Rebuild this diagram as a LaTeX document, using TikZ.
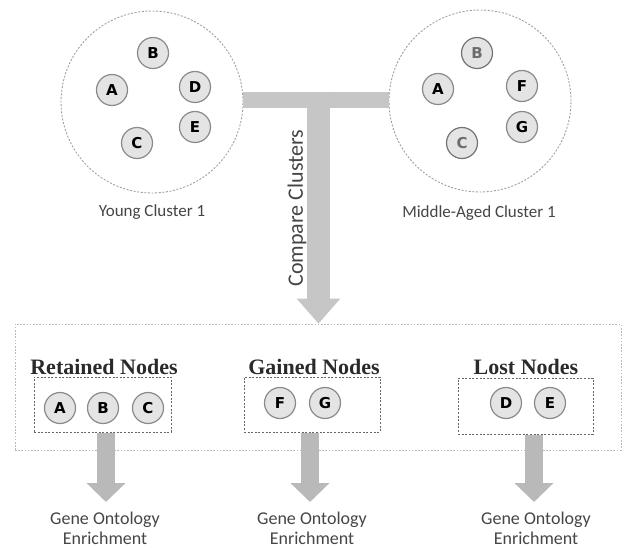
\documentclass[tikz,border=0pt]{standalone}
\usepackage{fontspec}
\setmainfont{Carlito}
\newfontfamily\titlefont{Liberation Serif}
\newfontfamily\letterfont{DejaVu Sans}
\usetikzlibrary{arrows.meta}
\definecolor{barc}{HTML}{C6C6C6}
\definecolor{arrc}{HTML}{B9B9B9}
\definecolor{nodefill}{HTML}{E4E4E4}
\definecolor{noderim}{HTML}{8A8A8A}
\definecolor{labc}{HTML}{454545}
\definecolor{titc}{HTML}{2A2A2A}
\tikzset{
  gnode/.style={circle, draw=noderim, fill=nodefill, line width=1.2pt, minimum size=31pt, inner sep=0pt,
    font=\letterfont\bfseries\fontsize{15}{15}\selectfont, text=black},
  fadednode/.style={gnode, draw=gray!90!black, text=gray!85!black},
  cluster/.style={circle, draw=gray!75, line width=0.9pt, dash pattern=on 2pt off 1.6pt, minimum size=182pt, inner sep=0pt},
  grpbox/.style={draw=gray!80!black, line width=1pt, dash pattern=on 2pt off 1.6pt, inner sep=0pt},
  outerbox/.style={draw=gray!55, line width=0.7pt, dash pattern=on 1.6pt off 1.6pt, inner sep=0pt},
  clabel/.style={font=\fontsize{17}{17}\selectfont, text=labc},
  gtitle/.style={font=\titlefont\bfseries\fontsize{22}{22}\selectfont, text=titc},
  golabel/.style={font=\fontsize{18}{20}\selectfont, text=labc, align=center},
  bigarrow/.style={draw=arrc, line width=18pt, -{Triangle[length=19pt,width=38pt]}},
}
\begin{document}
\begin{tikzpicture}[x=1pt,y=-1pt]
\useasboundingbox (0,0) rectangle (624,548);
% clusters
\node[cluster] (young) at (152,102) {};
\node[cluster] (middle) at (480,101) {};
\node[gnode] (yB) at (153,53) {B};
\node[gnode] (yA) at (112,90) {A};
\node[gnode] (yD) at (195,87) {D};
\node[gnode] (yE) at (195,127) {E};
\node[gnode] (yC) at (137,143) {C};
\node[fadednode] (mB) at (477,53) {B};
\node[gnode] (mA) at (438,89) {A};
\node[gnode] (mF) at (522,86) {F};
\node[gnode] (mG) at (522,127) {G};
\node[fadednode] (mC) at (462,143) {C};
\node[clabel] (ylab) at (152,212) {Young Cluster 1};
\node[clabel] (mlab) at (479,213) {Middle-Aged Cluster 1};
% comparison box
\node[outerbox, minimum width=606pt, minimum height=126pt] (cmp) at (318,387) {};
% T connector
\coordinate (tj) at (318.5,92);
\draw[draw=barc, line width=16pt] (young.east |- 0,100) -- (middle.west |- 0,100);
\draw[draw=barc, line width=23pt, -{Triangle[length=25pt,width=42pt]}] (tj) -- (cmp.north -| tj);
\node[rotate=90, font=\fontsize{22}{22}\selectfont, text=labc] (cc) at (297,208) {Compare Clusters};
% groups
\node[gtitle] (tret) at (104,367) {Retained Nodes};
\node[gtitle] (tgai) at (314,367) {Gained Nodes};
\node[gtitle] (tlos) at (526,367) {Lost Nodes};
\node[grpbox, minimum width=137pt, minimum height=55pt] (ret) at (102.5,404.5) {};
\node[grpbox, minimum width=136pt, minimum height=55pt] (gai) at (312,404.5) {};
\node[grpbox, minimum width=135pt, minimum height=56pt] (los) at (525.5,406) {};
\node[gnode] (rA) at (60,408) {A};
\node[gnode] (rB) at (103,408) {B};
\node[gnode] (rC) at (148,408) {C};
\node[gnode] (gF) at (280,403) {F};
\node[gnode] (gG) at (325,403) {G};
\node[gnode] (lD) at (506,403) {D};
\node[gnode] (lE) at (550,403) {E};
% GO labels
\node[golabel] (go1) at (105,528) {Gene Ontology\\Enrichment};
\node[golabel] (go2) at (312,528) {Gene Ontology\\Enrichment};
\node[golabel] (go3) at (536,528) {Gene Ontology\\Enrichment};
\coordinate (e1) at (106,502);
\coordinate (e2) at (310,502);
\coordinate (e3) at (534,502);
\draw[bigarrow] (ret.south -| e1) -- (e1);
\draw[bigarrow] (gai.south -| e2) -- (e2);
\draw[bigarrow] (los.south -| e3) -- (e3);
\end{tikzpicture}
\end{document}
